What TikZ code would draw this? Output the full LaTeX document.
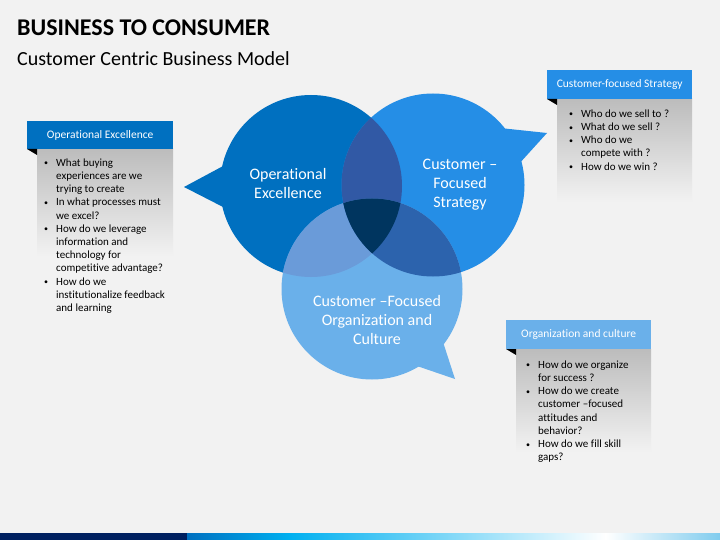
\documentclass[tikz,border=0pt]{standalone}
\usepackage{fontspec}
\setmainfont{Carlito}[Ligatures=NoCommon]
\definecolor{bg}{HTML}{F2F2F2}
\definecolor{cA}{HTML}{0070C0}
\definecolor{cB}{HTML}{258EE6}
\definecolor{cC}{HTML}{6AB0EA}
\definecolor{cAB}{HTML}{3159A5}
\definecolor{cAC}{HTML}{6A9BD9}
\definecolor{cBC}{HTML}{2C63AD}
\definecolor{cABC}{HTML}{00355F}
\definecolor{bodytop}{HTML}{BCBCBC}
\definecolor{navy}{HTML}{002060}
\definecolor{cyanb}{HTML}{00B0F0}
\definecolor{endb}{HTML}{80CCEE}
\newcommand\myb{\makebox[12pt][l]{\raisebox{0.5pt}{\fontsize{8}{8}\selectfont\textbullet}}}
\newcommand\myc{\hspace*{12pt}}
\begin{document}
\begin{tikzpicture}[x=1pt,y=-1pt,
  circtext/.style={text=white, align=center, font=\fontsize{16}{19}\selectfont, inner sep=0pt},
  hdr/.style={text=white, font=\fontsize{11.5}{13}\selectfont, minimum width=146pt, minimum height=28pt, inner sep=0pt, anchor=north west},
  bul/.style={text=black, align=left, font=\fontsize{11}{13.2}\selectfont, inner sep=0pt, anchor=north west}]
\useasboundingbox (0,0) rectangle (720,540);
\fill[bg] (0,0) rectangle (720,540);

% title
\node[anchor=base west, inner sep=0pt, font=\fontsize{24}{28}\selectfont\bfseries] (title) at (17,36) {BUSINESS TO CONSUMER};
\node[anchor=base west, inner sep=0pt, font=\fontsize{20}{24}\selectfont] (subtitle) at (17,66) {Customer Centric Business Model};

% circles
\coordinate (oA) at (311,186);
\coordinate (oB) at (433,185);
\coordinate (oC) at (372,289);
\fill[cA] (oA) circle[radius=91pt];
\fill[cA] (225,165) -- (184,187) -- (225,208) -- cycle;
\fill[cB] (oB) circle[radius=91.5pt];
\fill[cB] (500,128) -- (547,133) -- (518,165) -- cycle;
\fill[cC] (oC) circle[radius=90.5pt];
\fill[cC] (414,365) -- (455,379) -- (443,342) -- cycle;
\begin{scope}
  \clip (oA) circle[radius=91pt];
  \fill[cAB] (oB) circle[radius=91.5pt];
  \fill[cAC] (oC) circle[radius=90.5pt];
\end{scope}
\begin{scope}
  \clip (oB) circle[radius=91.5pt];
  \fill[cBC] (oC) circle[radius=90.5pt];
\end{scope}
\begin{scope}
  \clip (oA) circle[radius=91pt];
  \clip (oB) circle[radius=91.5pt];
  \fill[cABC] (oC) circle[radius=90.5pt];
\end{scope}
\node[circtext] (tA) at (288,184) {Operational\\Excellence};
\node[circtext] (tB) at (460,185) {Customer –\\Focused\\Strategy};
\node[circtext] (tC) at (377,320) {Customer –Focused\\Organization and\\Culture};

% left box
\shade[top color=bodytop, bottom color=bg] (37,149) rectangle (173,256);
\node[hdr, fill=cA] (h1) at (27,121) {Operational Excellence};
\fill[black] (27,149) -- (37,149) -- (37,155) -- cycle;
\node[bul] (b1) at (44,158.5) {\myb What buying\\\myc experiences are we\\\myc trying to create\\\myb In what processes must\\\myc we excel?\\\myb How do we leverage\\\myc information and\\\myc technology for\\\myc competitive advantage?\\\myb How do we\\\myc institutionalize feedback\\\myc and learning};

% right top box
\shade[top color=bodytop, bottom color=bg] (557,99) rectangle (692,202);
\node[hdr, fill=cB, minimum width=145pt, minimum height=29pt] (h2) at (547,70) {Customer-focused Strategy};
\fill[black] (547,99) -- (557,99) -- (557,105) -- cycle;
\node[bul] (b2) at (569,109.5) {\myb Who do we sell to ?\\\myb What do we sell ?\\\myb Who do we\\\myc compete with ?\\\myb How do we win ?};

% bottom right box
\shade[top color=bodytop, bottom color=bg] (516,349) rectangle (651,452);
\node[hdr, fill=cC, minimum width=145pt, minimum height=29pt] (h3) at (506,320) {Organization and culture};
\fill[black] (506,349) -- (516,349) -- (516,355) -- cycle;
\node[bul] (b3) at (526,360.5) {\myb How do we organize\\\myc for success ?\\\myb How do we create\\\myc customer –focused\\\myc attitudes and\\\myc behavior?\\\myb How do we fill skill\\\myc gaps?};

% bottom strip
\fill[navy] (0,533) rectangle (187,540);
\shade[left color=cA, right color=cyanb] (187,533) rectangle (290,540);
\shade[left color=cyanb, right color=white] (289.5,533) rectangle (606,540);
\shade[left color=white, right color=endb] (605.5,533) rectangle (720,540);
\end{tikzpicture}
\end{document}
